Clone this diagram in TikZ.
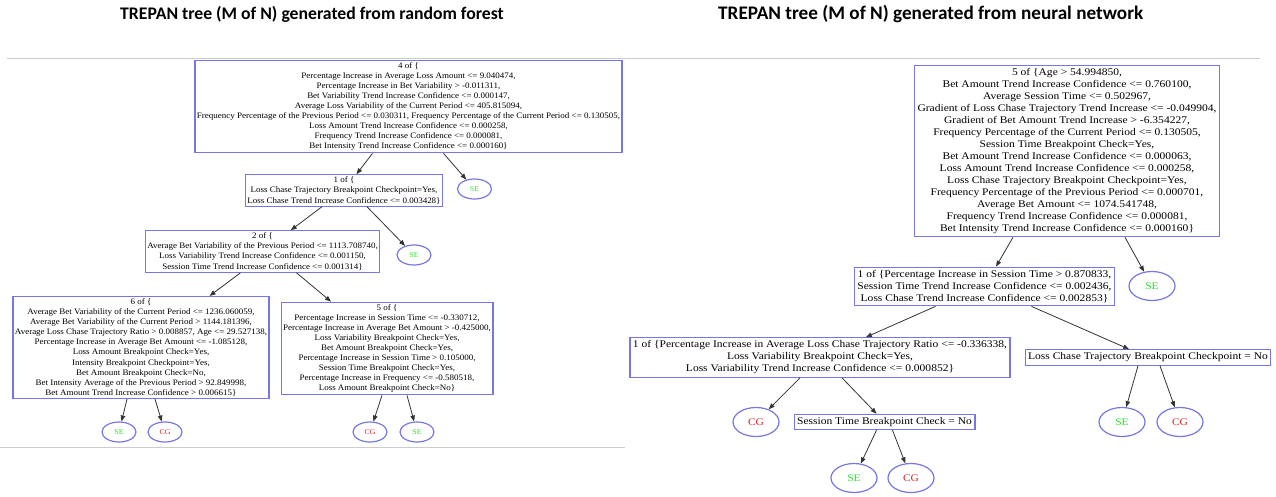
\documentclass[tikz,border=0pt]{standalone}
\usepackage{fontspec}
\setmainfont{Liberation Serif}
\newfontfamily\gvleft{Liberation Serif}[FakeStretch=1.07]
\newfontfamily\gvright{Liberation Serif}[FakeStretch=1.13]
\newfontfamily\titlefont{Carlito}
\usetikzlibrary{arrows.meta,shapes.geometric}
\definecolor{boxblue}{HTML}{7676E4}
\definecolor{segreen}{HTML}{2EE02E}
\definecolor{cgred}{HTML}{DC2828}
\definecolor{rulegray}{HTML}{CCCCCC}
\begin{document}
\begin{tikzpicture}[x=1pt,y=-1pt,
    lbox/.style={draw=boxblue,line width=1.2pt,align=center,inner sep=2pt,font=\gvleft\fontsize{8.4}{10.1}\selectfont},
    rbox/.style={draw=boxblue,line width=1.2pt,align=center,inner sep=3pt,font=\gvright\fontsize{10.2}{12}\selectfont},
    lleaf/.style={draw=boxblue,line width=1.2pt,ellipse,minimum width=34pt,minimum height=20pt,inner sep=0,font=\gvleft\fontsize{7.4}{8}\selectfont},
    rleaf/.style={draw=boxblue,line width=1.2pt,ellipse,minimum width=46pt,minimum height=29pt,inner sep=0,font=\gvright\fontsize{10.2}{11}\selectfont},
    se/.style={text=segreen},
    cg/.style={text=cgred},
    edge/.style={draw=black!80,line width=0.8pt,-{Triangle[length=6pt,width=4.5pt]}},
    heading/.style={anchor=base west,inner sep=0}]
  \useasboundingbox (0,0) rectangle (1276,496);
  % page rules
  \draw[rulegray,line width=0.8pt] (7,58) -- (1260,58);
  \draw[rulegray,line width=0.8pt] (0,447) -- (625,447);
  % headings
  \node[heading,font=\titlefont\bfseries\fontsize{17.7}{20}\selectfont] (tl) at (120,19) {TREPAN tree (M of N) generated from random forest};
  \node[heading,font=\titlefont\bfseries\fontsize{19.2}{22}\selectfont] (tr) at (718,19) {TREPAN tree (M of N) generated from neural network};
  % random forest tree
  \node[lbox] (L4) at (408.5,106.5) {4 of \{\\
    Percentage Increase in Average Loss Amount <= 9.040474,\\
    Percentage Increase in Bet Variability > -0.011311,\\
    Bet Variability Trend Increase Confidence <= 0.000147,\\
    Average Loss Variability of the Current Period <= 405.815094,\\
    Frequency Percentage of the Previous Period <= 0.030311, Frequency Percentage of the Current Period <= 0.130505,\\
    Loss Amount Trend Increase Confidence <= 0.000258,\\
    Frequency Trend Increase Confidence <= 0.000081,\\
    Bet Intensity Trend Increase Confidence <= 0.000160\}};
  \node[lleaf,se] (L4se) at (474.5,189) {SE};
  \node[lbox] (L1) at (344,190.5) {1 of \{\\
    Loss Chase Trajectory Breakpoint Checkpoint=Yes,\\
    Loss Chase Trend Increase Confidence <= 0.003428\}};
  \node[lleaf,se] (L1se) at (414,255) {SE};
  \node[lbox] (L2) at (262.5,251.5) {2 of \{\\
    Average Bet Variability of the Previous Period <= 1113.708740,\\
    Loss Variability Trend Increase Confidence <= 0.001150,\\
    Session Time Trend Increase Confidence <= 0.001314\}};
  \node[lbox] (L6) at (141,347.5) {6 of \{\\
    Average Bet Variability of the Current Period <= 1236.060059,\\
    Average Bet Variability of the Current Period > 1144.181396,\\
    Average Loss Chase Trajectory Ratio > 0.008857, Age <= 29.527138,\\
    Percentage Increase in Average Bet Amount <= -1.085128,\\
    Loss Amount Breakpoint Check=Yes,\\
    Intensity Breakpoint Checkpoint=Yes,\\
    Bet Amount Breakpoint Check=No,\\
    Bet Intensity Average of the Previous Period > 92.849998,\\
    Bet Amount Trend Increase Confidence > 0.006615\}};
  \node[lbox] (L5) at (387,348.5) {5 of \{\\
    Percentage Increase in Session Time <= -0.330712,\\
    Percentage Increase in Average Bet Amount > -0.425000,\\
    Loss Variability Breakpoint Check=Yes,\\
    Bet Amount Breakpoint Check=Yes,\\
    Percentage Increase in Session Time > 0.105000,\\
    Session Time Breakpoint Check=Yes,\\
    Percentage Increase in Frequency <= -0.580518,\\
    Loss Amount Breakpoint Check=No\}};
  \node[lleaf,se] (L6se) at (119,432) {SE};
  \node[lleaf,cg] (L6cg) at (165,432) {CG};
  \node[lleaf,cg] (L5cg) at (370,432) {CG};
  \node[lleaf,se] (L5se) at (417,432) {SE};
  \draw[edge] ([xshift=-36pt]L4.south) -- (L1);
  \draw[edge] ([xshift=35pt]L4.south) -- (L4se);
  \draw[edge] ([xshift=-22pt]L1.south) -- (L2);
  \draw[edge] ([xshift=23pt]L1.south) -- (L1se);
  \draw[edge] ([xshift=-22pt]L2.south) -- (L6);
  \draw[edge] ([xshift=34pt]L2.south) -- (L5);
  \draw[edge] ([xshift=-14pt]L6.south) -- (L6se);
  \draw[edge] ([xshift=14pt]L6.south) -- (L6cg);
  \draw[edge] ([xshift=-5pt]L5.south) -- (L5cg);
  \draw[edge] ([xshift=20pt]L5.south) -- (L5se);
  % neural network tree
  \node[rbox] (R5) at (1067,151) {5 of \{Age > 54.994850,\\
    Bet Amount Trend Increase Confidence <= 0.760100,\\
    Average Session Time <= 0.502967,\\
    Gradient of Loss Chase Trajectory Trend Increase <= -0.049904,\\
    Gradient of Bet Amount Trend Increase > -6.354227,\\
    Frequency Percentage of the Current Period <= 0.130505,\\
    Session Time Breakpoint Check=Yes,\\
    Bet Amount Trend Increase Confidence <= 0.000063,\\
    Loss Amount Trend Increase Confidence <= 0.000258,\\
    Loss Chase Trajectory Breakpoint Checkpoint=Yes,\\
    Frequency Percentage of the Previous Period <= 0.000701,\\
    Average Bet Amount <= 1074.541748,\\
    Frequency Trend Increase Confidence <= 0.000081,\\
    Bet Intensity Trend Increase Confidence <= 0.000160\}};
  \node[rleaf,se] (R5se) at (1152,286) {SE};
  \node[rbox] (R1a) at (984.5,286.5) {1 of \{Percentage Increase in Session Time > 0.870833,\\
    Session Time Trend Increase Confidence <= 0.002436,\\
    Loss Chase Trend Increase Confidence <= 0.002853\}};
  \node[rbox] (R1b) at (820,357.5) {1 of \{Percentage Increase in Average Loss Chase Trajectory Ratio <= -0.336338,\\
    Loss Variability Breakpoint Check=Yes,\\
    Loss Variability Trend Increase Confidence <= 0.000852\}};
  \node[rbox] (Rlc) at (1148,357.5) {Loss Chase Trajectory Breakpoint Checkpoint = No};
  \node[rleaf,cg] (R1bcg) at (756,422) {CG};
  \node[rbox] (Rst) at (884.5,422) {Session Time Breakpoint Check = No};
  \node[rleaf,se] (Rstse) at (854,478) {SE};
  \node[rleaf,cg] (Rstcg) at (911,478) {CG};
  \node[rleaf,se] (Rlcse) at (1122,422) {SE};
  \node[rleaf,cg] (Rlccg) at (1180,422) {CG};
  \draw[edge] ([xshift=-54pt]R5.south) -- (R1a);
  \draw[edge] ([xshift=58pt]R5.south) -- (R5se);
  \draw[edge] ([xshift=-49pt]R1a.south) -- (R1b);
  \draw[edge] ([xshift=47pt]R1a.south) -- (Rlc);
  \draw[edge] ([xshift=-20pt]R1b.south) -- (R1bcg);
  \draw[edge] ([xshift=22pt]R1b.south) -- (Rst);
  \draw[edge] ([xshift=-10pt]Rlc.south) -- (Rlcse);
  \draw[edge] ([xshift=12pt]Rlc.south) -- (Rlccg);
  \draw[edge] ([xshift=-8pt]Rst.south) -- (Rstse);
  \draw[edge] ([xshift=8pt]Rst.south) -- (Rstcg);
\end{tikzpicture}
\end{document}
